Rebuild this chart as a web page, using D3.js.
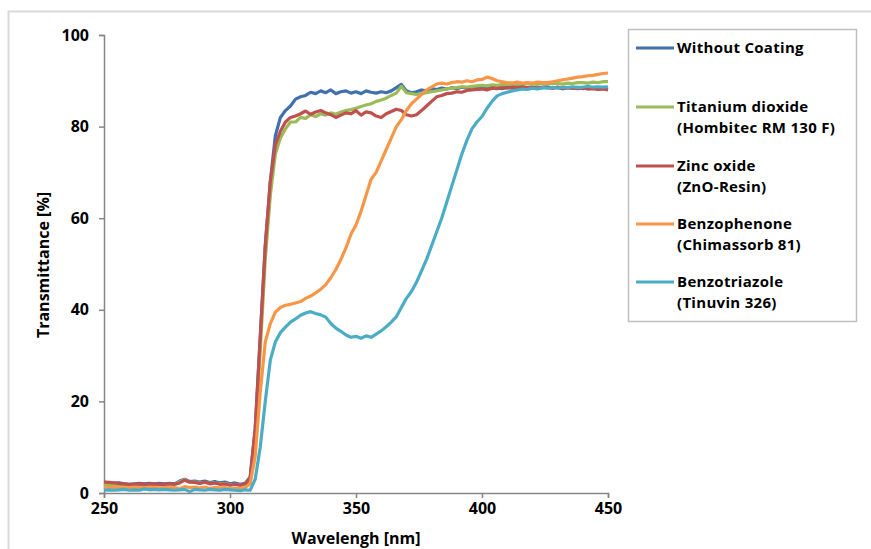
<!DOCTYPE html>
<html><head><meta charset="utf-8">
<script src="https://cdn.jsdelivr.net/npm/d3@7"></script>
<style>body{margin:0;background:#fff;}svg{display:block;}</style>
</head><body>
<svg id="c" width="871" height="549"></svg>
<script>
const wavelengths = [250,252,254,256,258,260,262,264,266,268,270,272,274,276,278,280,282,284,286,288,290,292,294,296,298,300,302,304,306,308,310,312,314,316,318,320,322,324,326,328,330,332,334,336,338,340,342,344,346,348,350,352,354,356,358,360,362,364,366,368,370,372,374,376,378,380,382,384,386,388,390,392,394,396,398,400,402,404,406,408,410,412,414,416,418,420,422,424,426,428,430,432,434,436,438,440,442,444,446,448,450];

const withoutCoating = [2.3,2.2,2.1,2.2,2.0,1.9,2.0,2.1,2.0,2.1,2.0,2.1,2.0,2.1,2.0,2.6,3.0,2.5,2.6,2.4,2.6,2.3,2.5,2.2,2.4,2.0,2.2,1.9,2.1,3.5,14,34,54,68,78,82,83.5,84.5,86,86.5,86.8,87.5,87.2,87.8,87.4,88,87.2,87.6,87.8,87.3,87.6,87.2,87.8,87.5,87.3,87.6,87.4,87.8,88.5,89.2,87.8,87.4,87.6,88,87.8,88.3,88.1,88.4,88.2,88.5,88.3,88.6,88.4,88.7,88.5,88.6,88.4,88.7,88.5,88.3,88.6,88.4,88.7,88.5,88.3,88.6,88.4,88.5,88.7,88.4,88.6,88.3,88.5,88.4,88.6,88.3,88.5,88.4,88.3,88.4,88.2];

const titaniumDioxide = [1.9,1.8,1.9,1.8,1.7,1.8,1.9,1.8,1.7,1.8,1.9,1.8,1.8,1.9,1.8,2.4,2.9,2.3,2.4,2.2,2.3,2.1,2.2,2.0,2.1,1.8,1.9,1.7,1.9,3.0,12,31,51,65,74,77.5,79.5,81,81,82,81.8,82.6,82.2,82.8,82.5,83,82.7,83.2,83.5,83.7,84,84.4,84.7,85,85.5,85.8,86.2,86.8,87.3,88.8,87.4,87.2,87,87.2,87.4,87.6,87.8,88,88.2,88.4,88.5,88.7,88.6,88.8,88.9,89,88.9,89.1,89,89.2,89.2,89.1,89.3,89.2,89.4,89.3,89.2,89.4,89.3,89.5,89.4,89.3,89.5,89.4,89.6,89.6,89.5,89.7,89.6,89.8,89.8];

const zincOxide = [2.4,2.3,2.2,2.1,2.0,1.9,1.9,2.0,1.9,1.9,2.0,1.9,1.9,2.0,1.9,2.2,2.8,2.4,2.3,2.1,2.4,2.0,2.2,1.9,2.0,1.7,1.9,1.7,2.0,3.2,14,34,54,68,76,79,81,82,82.3,82.8,83.4,82.7,83.2,83.5,83,82.6,82,82.5,83,82.8,83.5,82.5,83.2,83,82.3,82,82.8,83.3,83.8,83.5,82.6,82.3,82.6,83.5,84.5,85.5,86.5,86.8,87.2,87.3,87.6,87.5,87.9,88,88.1,88.2,88,88.4,88.3,88.5,88.4,88.6,88.5,88.7,88.5,88.6,88.4,88.6,88.5,88.4,88.6,88.3,88.5,88.4,88.3,88.4,88.2,88.3,88.1,88.2,88];

const benzophenone = [1.3,1.2,1.3,1.2,1.1,1.2,1.3,1.2,1.2,1.3,1.2,1.1,1.2,1.3,1.2,0.9,1.4,1.2,1.3,1.1,1.3,1.0,1.2,1.1,1.2,0.9,1.1,0.9,1.2,2,8,22,33,37,39.5,40.5,41,41.2,41.5,41.8,42.5,43,43.7,44.5,45.5,47,48.8,51,53.5,56.5,58.5,61.5,65,68.5,70,72.5,75,77.5,80,81.5,83.5,85,86,87,88,88.6,89.3,89.5,89.3,89.6,89.8,89.7,90,89.8,90.2,90.3,90.8,90.5,90,89.8,89.6,89.5,89.7,89.5,89.6,89.5,89.7,89.6,89.6,89.8,90,90.2,90.4,90.6,90.8,90.9,91.1,91.2,91.4,91.6,91.7];

const benzotriazole = [0.6,0.7,0.6,0.7,0.8,0.6,0.7,0.6,0.9,0.7,0.8,0.7,0.8,0.7,0.6,0.7,0.8,0.3,0.8,0.7,0.6,0.8,0.7,0.6,0.8,0.7,0.6,0.5,0.7,0.6,3,10,20,29,33,35,36.2,37.3,38,38.8,39.3,39.6,39.2,38.9,38.4,37,36,35.3,34.5,34,34.2,33.8,34.3,34,34.7,35.4,36.3,37.3,38.5,40.5,42.5,44,46,48.5,51,54,57,60,63.5,67,70.5,74,77,79.5,81,82.2,84,85.5,86.7,87.2,87.5,87.8,88,88.2,88.1,88.4,88.2,88.5,88.4,88.6,88.4,88.6,88.5,88.7,88.5,88.6,88.8,88.6,88.7,88.6,88.7];

const seriesNames = [["Without Coating"],["Titanium dioxide","(Hombitec RM 130 F)"],["Zinc oxide","(ZnO-Resin)"],["Benzophenone","(Chimassorb 81)"],["Benzotriazole","(Tinuvin 326)"]];
const seriesValues = [withoutCoating, titaniumDioxide, zincOxide, benzophenone, benzotriazole];
const colors = ["#4070AD","#9BBB59","#C0504D","#F79646","#4BACC6"];
const xTicks = [250,300,350,400,450];
const yTicks = [0,20,40,60,80,100];

const svg = d3.select("#c");
const font = "'Open Sans', sans-serif";
svg.append("rect").attr("x",8.5).attr("y",11.5).attr("width",900).attr("height",600)
  .attr("fill","none").attr("stroke","#d9d9d9").attr("stroke-width",2);

const x = d3.scaleLinear().domain([250,450]).range([104,608]);
const y = d3.scaleLinear().domain([0,100]).range([493,35]);
const axisColor = "#868686";

const gx = svg.append("g").attr("transform","translate(0,493)")
  .call(d3.axisBottom(x).tickValues(xTicks).tickSize(5).tickPadding(5));
const gy = svg.append("g").attr("transform","translate(104,0)")
  .call(d3.axisLeft(y).tickValues(yTicks).tickSize(5).tickPadding(10));
[gx,gy].forEach(g=>{
  g.selectAll("path,line").attr("stroke",axisColor).attr("stroke-width",1.5);
  g.selectAll("text").attr("fill","#000").style("font-family",font).style("font-weight","700").style("font-size","16px");
});

const line = d3.line().x((d,i)=>x(wavelengths[i])).y(d=>y(d));
seriesValues.forEach((vals,k)=>{
  svg.append("path").datum(vals).attr("d",line).attr("fill","none")
    .attr("stroke",colors[k]).attr("stroke-width",3.2).attr("stroke-linejoin","round");
});

svg.append("text").attr("x",356).attr("y",544).attr("text-anchor","middle")
  .style("font-family",font).style("font-weight","700").style("font-size","16px").text("Wavelengh [nm]");
svg.append("text").attr("transform","translate(49,265) rotate(-90)").attr("text-anchor","middle")
  .style("font-family",font).style("font-weight","700").style("font-size","16px").text("Transmittance [%]");

// legend
svg.append("rect").attr("x",628.5).attr("y",29.5).attr("width",228).attr("height",292)
  .attr("fill","#fff").attr("stroke","#bfbfbf").attr("stroke-width",1.5);
const legY = [48,107,166,224,282];
seriesNames.forEach((lines,k)=>{
  svg.append("line").attr("x1",636).attr("x2",674).attr("y1",legY[k]).attr("y2",legY[k])
    .attr("stroke",colors[k]).attr("stroke-width",3.2);
  lines.forEach((t,j)=>{
    svg.append("text").attr("x",677).attr("y",legY[k]+5+j*20.6)
      .style("font-family",font).style("font-weight","700").style("font-size","15px")
      .style("letter-spacing","0.3px").text(t);
  });
});
</script>
</body></html>
